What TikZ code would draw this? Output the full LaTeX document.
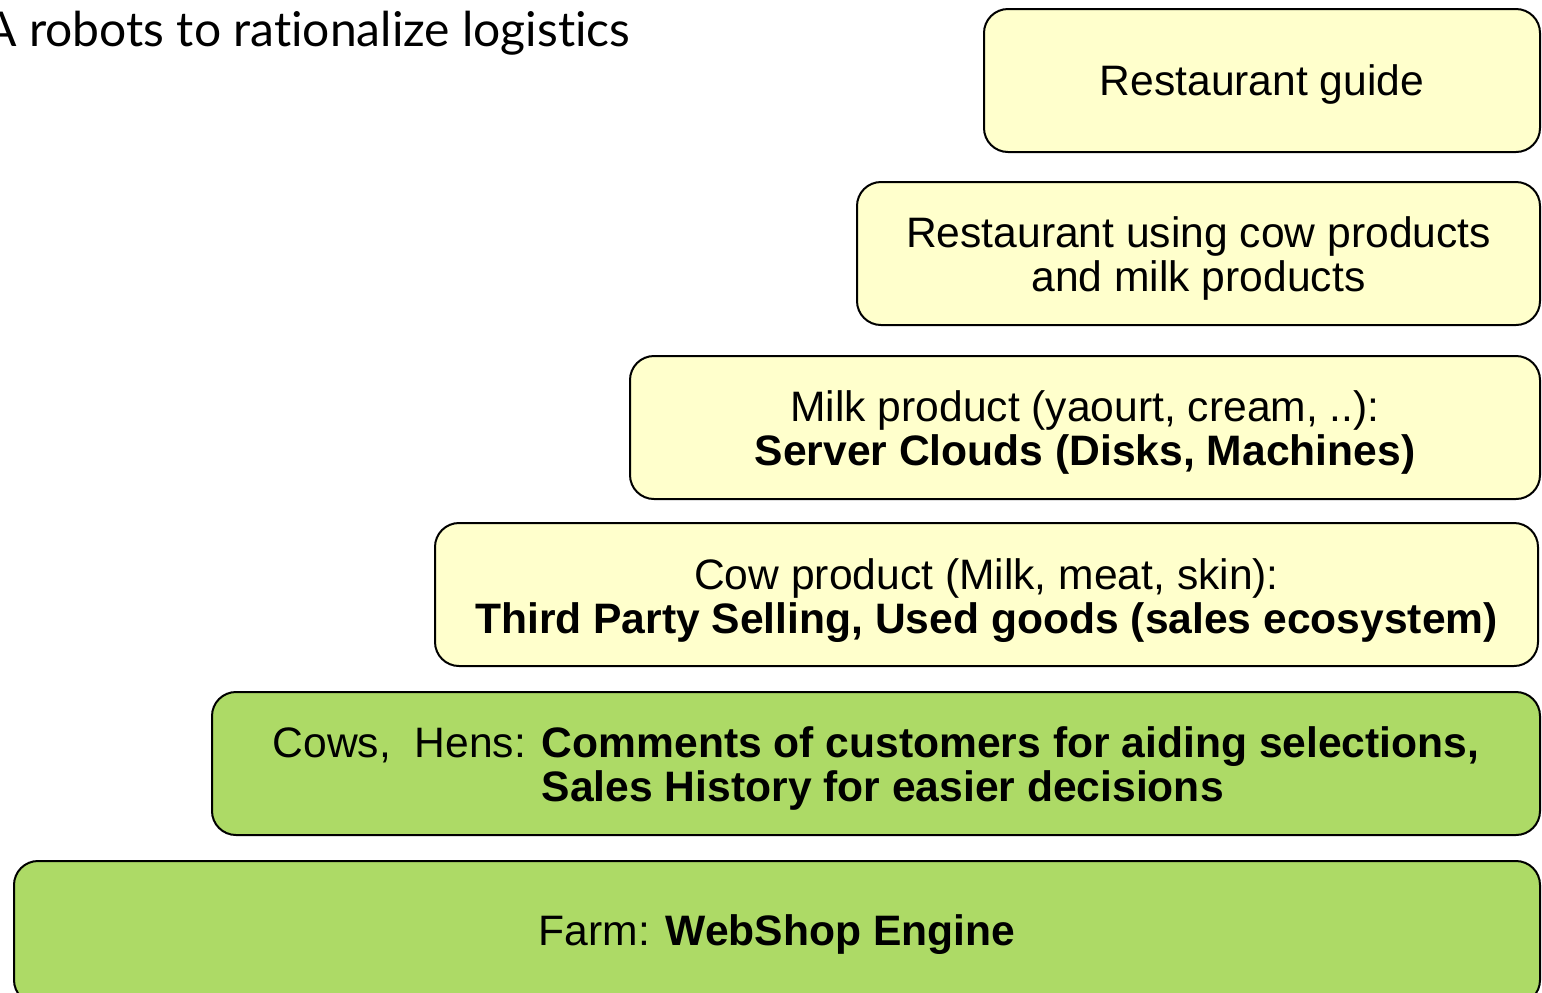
\documentclass[tikz,border=0pt]{standalone}
\usepackage{fontspec}
\setmainfont{Liberation Sans}
\newfontfamily\titlefont[Ligatures={NoCommon}]{Lato}
\usepackage{tikz}
\usetikzlibrary{positioning}

\definecolor{layeryellow}{HTML}{FFFFCC}
\definecolor{layergreen}{HTML}{ADDA66}

% invisible rule on the first line, pushes the text down a little
\newcommand\toppad[1]{\rule{0pt}{#1}}

\tikzset{
  layer/.style={draw, line width=1pt, rounded corners=12pt, minimum height=71.5pt,
    align=center, inner sep=0pt, font=\fontsize{21.3}{22}\selectfont},
  upper/.style={layer, fill=layeryellow},
  lower/.style={layer, fill=layergreen}
}

\begin{document}
\begin{tikzpicture}[x=0.5pt,y=-0.5pt]
      \useasboundingbox (0,0) rectangle (1542,992);
      \clip (0,0) rectangle (1542,992);

      \node[anchor=base west, inner sep=0pt, font=\titlefont\fontsize{24}{28}\selectfont]
        (title) at (-16,46) {A robots to rationalize logistics};

      \node[upper, minimum width=278pt] (guide) at (1262,80.5) {\toppad{19.5pt}Restaurant guide};
      \node[upper, minimum width=341.5pt] (restaurant) at (1198.5,253.5)
        {\toppad{20.5pt}Restaurant using cow products\\and milk products};
      \node[upper, minimum width=455pt] (milk) at (1085,427.5)
        {\toppad{20.5pt}Milk product (yaourt, cream, ..):\\\textbf{Server Clouds (Disks, Machines)}};
      \node[upper, minimum width=551.5pt] (cowprod) at (986.5,594.5)
        {\toppad{21.5pt}Cow product (Milk, meat, skin):\\\textbf{Third Party Selling, Used goods (sales ecosystem)}};
      \node[lower, minimum width=664pt] (cows) at (876,763.5)
        {\toppad{22.5pt}Cows,\ \ Hens: \begin{tabular}[t]{@{}l@{}}\textbf{Comments of customers for aiding selections,}\\
         \textbf{Sales History for easier decisions}\end{tabular}};
      \node[lower, minimum width=763pt] (farm) at (777,932.5) {\toppad{17.5pt}Farm: \textbf{WebShop Engine}};
    \end{tikzpicture}
\end{document}
